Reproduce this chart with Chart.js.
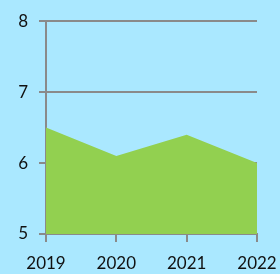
<!DOCTYPE html>
<html>
<head>
<meta charset="utf-8">
<script src="https://cdn.jsdelivr.net/npm/chart.js@4/dist/chart.umd.min.js"></script>
<style>
  html, body { margin: 0; padding: 0; background: #aae8ff; }
  #wrap { width: 280px; height: 274px; }
</style>
</head>
<body>
<div id="wrap"><canvas id="myChart"></canvas></div>
<script>
var years = ['2019', '2020', '2021', '2022'];
var values = [6.5, 6.1, 6.4, 6.0];
var yTicks = [5, 6, 7, 8];

window.addEventListener('load', function(){
    var grey = '#8a8a8a';
    var ctx = document.getElementById('myChart').getContext('2d');
    var chart = new Chart(ctx, {
        type: 'line',
        data: {
            labels: years,
            datasets: [{
                data: values,
                fill: 'start',
                backgroundColor: '#92d050',
                borderWidth: 0,
                pointRadius: 0,
                tension: 0
            }]
        },
        options: {
            responsive: true,
            maintainAspectRatio: false,
            animation: false,
            layout: { padding: { top: 20, right: 23, left: 0, bottom: 0 } },
            plugins: { legend: { display: false }, tooltip: { enabled: false } },
            scales: {
                x: {
                    offset: false,
                    grid: { drawOnChartArea: false, color: grey, lineWidth: 2, tickLength: 8 },
                    border: { color: grey, width: 2 },
                    ticks: { color: '#111', font: { family: 'Lato', size: 17 }, padding: 11, maxRotation: 0 },
                    afterFit: function(scale){
                        scale.height = 40;
                        scale.paddingLeft = 0;
                        scale.paddingRight = 0;
                    }
                },
                y: {
                    min: 5, max: 8,
                    afterBuildTicks: function(scale){ scale.ticks = yTicks.map(function(v){ return {value: v}; }); },
                    grid: { color: grey, lineWidth: 2, tickLength: 7 },
                    border: { color: grey, width: 2 },
                    ticks: { color: '#111', font: { family: 'Lato', size: 17 }, padding: 11 },
                    afterFit: function(scale){ scale.width = 46; }
                }
            }
        }
    });
});
</script>
</body>
</html>
